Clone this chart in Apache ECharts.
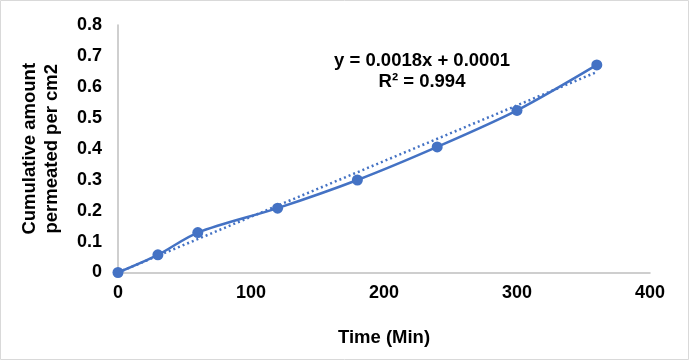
<!DOCTYPE html>
<html>
<head>
<meta charset="utf-8">
<script src="https://cdn.jsdelivr.net/npm/echarts@6/dist/echarts.min.js"></script>
<style>html,body{margin:0;padding:0;background:#fff}#c{width:689px;height:360px}</style>
</head>
<body>
<div id="c"></div>
<script>
// Data
const timeMin = [0, 30, 60, 120, 180, 240, 300, 360];
const cumulative = [0, 0.057, 0.129, 0.208, 0.299, 0.406, 0.524, 0.671];
const trendSlope = 0.0018;
const trendIntercept = 0.0001;
const trendX = [0, 360];
const equationText = ['y = 0.0018x + 0.0001', 'R² = 0.994'];
const xTicks = [0, 100, 200, 300, 400];
const yTicks = [0, 0.1, 0.2, 0.3, 0.4, 0.5, 0.6, 0.7, 0.8];

const color = '#4472C4';
const font = 'Liberation Sans, Arial, sans-serif';
const chart = echarts.init(document.getElementById('c'));
chart.setOption({
  animation: false,
  grid: { left: 118, right: 39, top: 25, bottom: 87.5 },
  graphic: [
    { type: 'rect', shape: { x: 0.5, y: 0.5, width: 688, height: 359 }, style: { fill: 'none', stroke: '#d9d9d9', lineWidth: 1 } },
    { type: 'text', x: 422, y: 50, style: { text: equationText.join('\n'), font: 'bold 18.5px ' + font, fill: '#000', textAlign: 'center', textVerticalAlign: 'top', lineHeight: 21 } }
  ],
  xAxis: {
    type: 'value', min: xTicks[0], max: xTicks[xTicks.length - 1], interval: 100,
    name: 'Time (Min)', nameLocation: 'middle', nameGap: 56,
    nameTextStyle: { fontFamily: font, fontWeight: 'bold', fontSize: 18.5, color: '#000' },
    axisLine: { lineStyle: { color: '#bfbfbf', width: 1.5 } },
    axisTick: { show: false },
    splitLine: { show: false },
    axisLabel: { fontFamily: font, fontWeight: 'bold', fontSize: 18, color: '#000', margin: 12 }
  },
  yAxis: {
    type: 'value', min: yTicks[0], max: yTicks[yTicks.length - 1], interval: 0.1,
    name: 'Cumulative amount\npermeated per cm2', nameLocation: 'middle', nameGap: 55,
    nameTextStyle: { fontFamily: font, fontWeight: 'bold', fontSize: 18.5, color: '#000', lineHeight: 22 },
    axisLine: { show: true, lineStyle: { color: '#bfbfbf', width: 1.5 } },
    axisTick: { show: false },
    splitLine: { show: false },
    axisLabel: { fontFamily: font, fontWeight: 'bold', fontSize: 18, color: '#000', margin: 16,
      formatter: v => (Math.round(v * 10) / 10).toString() }
  },
  series: [
    {
      type: 'line',
      data: trendX.map(x => [x, trendSlope * x + trendIntercept]),
      symbol: 'none',
      lineStyle: { color: color, width: 2.5, type: [2, 3] },
      z: 1
    },
    {
      type: 'line',
      data: timeMin.map((t, i) => [t, cumulative[i]]),
      smooth: 0.3,
      symbol: 'circle', symbolSize: 11,
      itemStyle: { color: color },
      lineStyle: { color: color, width: 2.5 },
      z: 2
    }
  ]
});
</script>
</body>
</html>
